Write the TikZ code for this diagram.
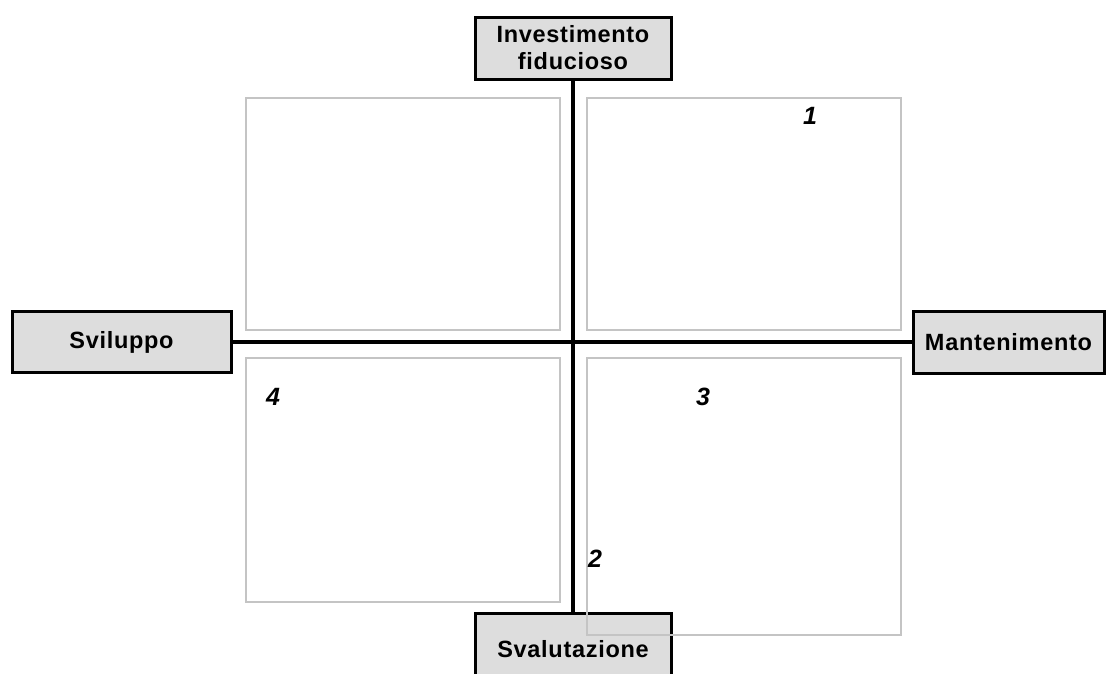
\documentclass[tikz,border=0pt]{standalone}
\usepackage{fontspec}
\setmainfont{Liberation Sans}
\newfontfamily\labfont[LetterSpace=3]{Liberation Sans}
\definecolor{boxgray}{HTML}{DDDDDD}
\definecolor{quadgray}{HTML}{C4C4C4}
\begin{document}
\begin{tikzpicture}[x=1pt,y=-1pt,
  axisbox/.style={draw=black, line width=3pt, fill=boxgray, inner sep=0pt,
    font=\labfont\bfseries\fontsize{23.5}{27}\selectfont, align=center},
  quad/.style={draw=quadgray, line width=1.5pt, inner sep=0pt},
  num/.style={font=\bfseries\itshape\fontsize{25}{25}\selectfont, inner sep=0pt},
  axisline/.style={line width=4pt}]
\useasboundingbox (0,0) rectangle (1107,673);
\clip (0,0) rectangle (1107,673);
% quadrant frames (upper and left)
\node[quad, minimum width=314pt, minimum height=232pt] (q1) at (403,214) {};
\node[quad, minimum width=314pt, minimum height=232pt] (q2) at (744,214) {};
\node[quad, minimum width=314pt, minimum height=244pt] (q3) at (403,480) {};
% axis boxes
\node[axisbox, minimum width=196pt, minimum height=62pt] (top) at (573,48) {Investimento\\fiducioso};
\node[axisbox, minimum width=219pt, minimum height=61pt] (left) at (121.5,342) {Sviluppo};
\node[axisbox, minimum width=191pt, minimum height=62pt] (right) at (1008.5,342) {Mantenimento};
\node[axisbox, minimum width=196pt, minimum height=72pt] (bottom) at (573,649) {Svalutazione};
% axes
\draw[axisline] (top.south) -- (bottom.north);
\draw[axisline] (left.east) -- (right.west);
% lower right frame, drawn over the bottom box
\node[quad, minimum width=314pt, minimum height=277pt] (q4) at (744,496.5) {};
% numbers
\node[num] (n1) at (810,116) {1};
\node[num] (n2) at (595,559) {2};
\node[num] (n3) at (703,397) {3};
\node[num] (n4) at (273,397) {4};
\end{tikzpicture}
\end{document}
